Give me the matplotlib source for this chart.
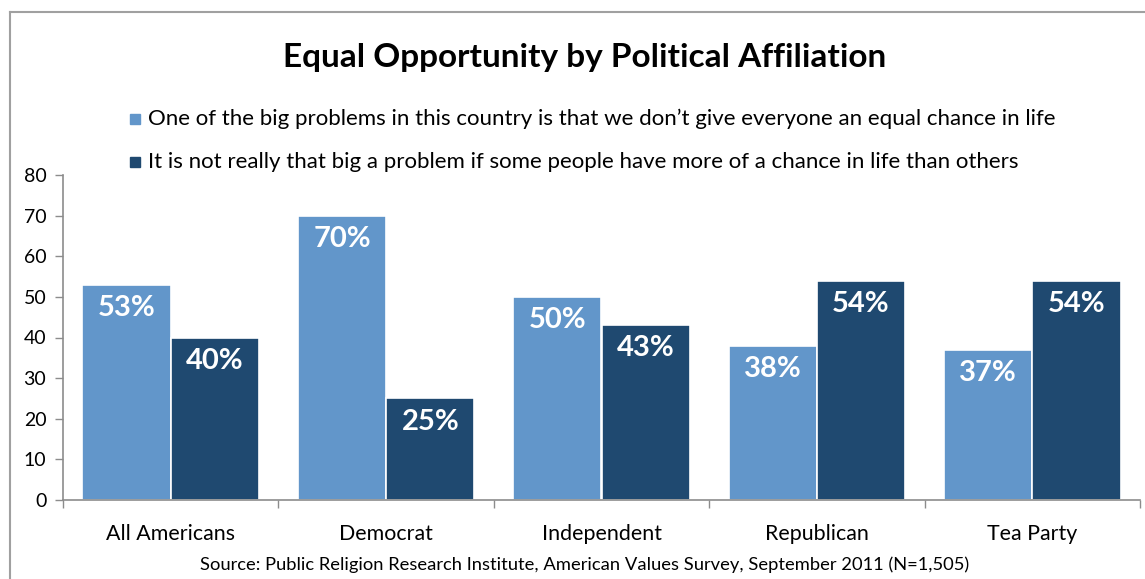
import matplotlib
matplotlib.use("Agg")
import matplotlib.pyplot as plt
from matplotlib.lines import Line2D
import numpy as np

categories = ["All Americans", "Democrat", "Independent", "Republican", "Tea Party"]
big_problem = [53, 70, 50, 38, 37]
not_big_problem = [40, 25, 43, 54, 54]
series_labels = [
    "One of the big problems in this country is that we don\u2019t give everyone an equal chance in life",
    "It is not really that big a problem if some people have more of a chance in life than others",
]
yticks = [0, 10, 20, 30, 40, 50, 60, 70, 80]

light = "#6296CA"
dark = "#1F4970"
grey = "#8C8C8C"

plt.rcParams['font.family'] = ['Lato', 'DejaVu Sans']

W, H = 1145, 579
fig = plt.figure(figsize=(W / 100, H / 100), dpi=100)

ax = fig.add_axes([63 / W, 1 - 500 / H, (1140 - 63) / W, (500 - 175) / H])
x = np.arange(len(categories))
bw = 0.41
b1 = ax.bar(x - bw / 2, big_problem, bw, color=light, edgecolor="white", linewidth=1.2)
b2 = ax.bar(x + bw / 2, not_big_problem, bw, color=dark, edgecolor="white", linewidth=1.2)

for bars, vals in ((b1, big_problem), (b2, not_big_problem)):
    for rect, v in zip(bars, vals):
        ax.text(rect.get_x() + rect.get_width() / 2, v - 5.7, f"{v}%",
                ha="center", va="center", color="white", fontsize=21, fontweight="bold")

ax.set_xlim(-0.5, len(categories) - 0.5)
ax.set_ylim(0, 80)
ax.set_yticks(yticks)
ax.set_yticklabels([str(t) for t in yticks], fontsize=14)
ax.set_xticks(x)
ax.set_xticklabels(categories, fontsize=15.4)
ax.set_xticks(np.arange(-0.5, len(categories)), minor=True)
ax.tick_params(axis="x", which="major", length=0, pad=17)
ax.tick_params(axis="x", which="minor", length=6, color=grey, width=1)
ax.tick_params(axis="y", length=6, color=grey, width=1, pad=6)
for s in ("top", "right"):
    ax.spines[s].set_visible(False)
for s in ("left", "bottom"):
    ax.spines[s].set_color(grey)
    ax.spines[s].set_linewidth(1.2)

fig.text(585 / W, 1 - 57 / H, "Equal Opportunity by Political Affiliation",
         ha="center", va="center", fontsize=24, fontweight="bold")

for i, (lab, col) in enumerate(zip(series_labels, [light, dark])):
    yy = 1 - (119 + 43 * i) / H
    fig.patches.append(plt.Rectangle((130 / W, yy - 5 / H), 10 / W, 10 / H,
                                     transform=fig.transFigure, color=col, figure=fig))
    fig.text(148 / W, yy, lab, ha="left", va="center", fontsize=16)

fig.text(585 / W, 1 - 565 / H,
         "Source: Public Religion Research Institute, American Values Survey, September 2011 (N=1,505)",
         ha="center", va="center", fontsize=13.2)

fig.lines.append(Line2D([10 / W, 10 / W], [0, 1 - 12 / H], transform=fig.transFigure,
                        color="#A0A0A0", linewidth=1.5))
fig.lines.append(Line2D([10 / W, 1], [1 - 12 / H, 1 - 12 / H], transform=fig.transFigure,
                        color="#A0A0A0", linewidth=1.5))

fig.savefig("out.png", dpi=100)
